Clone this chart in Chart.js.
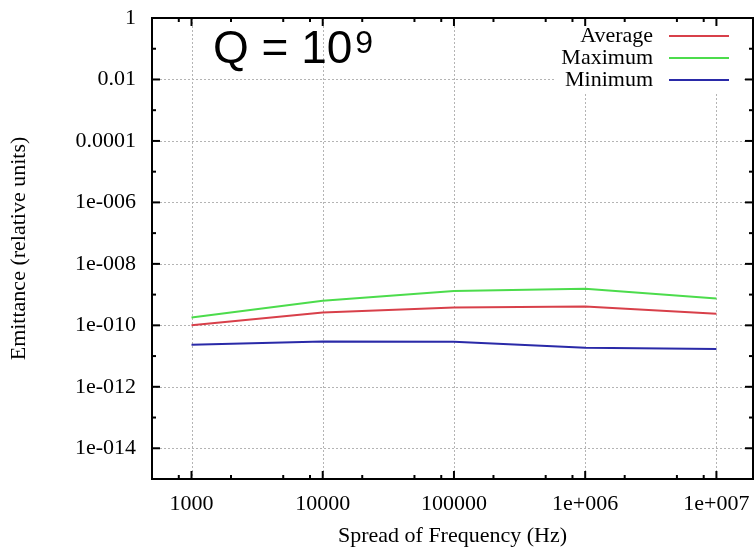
<!DOCTYPE html>
<html>
<head>
<meta charset="utf-8">
<script src="https://cdn.jsdelivr.net/npm/chart.js@4.4.1/dist/chart.umd.min.js"></script>
<style>
  html, body { margin: 0; padding: 0; background: #fff; }
</style>
</head>
<body>
<canvas id="chart" width="755" height="549"></canvas>
<script>
// Data
const frequencies = [1000, 10000, 100000, 1000000, 10000000];
const average = [1.0e-10, 2.6e-10, 3.8e-10, 4.1e-10, 2.4e-10];
const maximum = [1.8e-10, 6.3e-10, 1.3e-9, 1.55e-9, 7.5e-10];
const minimum = [2.35e-11, 3.0e-11, 2.9e-11, 1.85e-11, 1.7e-11];

const xTickValues = [1000, 10000, 100000, 1000000, 10000000];
const xTickLabels = ["1000", "10000", "100000", "1e+006", "1e+007"];
const xMinorTicks = [800, 2000, 5000, 8000, 20000, 50000, 80000, 200000, 500000, 800000, 2000000, 5000000, 8000000];
const yTickValues = [1, 0.01, 1e-4, 1e-6, 1e-8, 1e-10, 1e-12, 1e-14];
const yTickLabels = ["1", "0.01", "0.0001", "1e-006", "1e-008", "1e-010", "1e-012", "1e-014"];
const yMinorTicks = [0.1, 1e-3, 1e-5, 1e-7, 1e-9, 1e-11, 1e-13];

const serif = "'Liberation Serif', 'DejaVu Serif', serif";

const toPoints = (ys) => frequencies.map((x, i) => ({ x: x, y: ys[i] }));

// gnuplot-like frame: dotted grid, inward ticks, boxed legend, Q label
const gnuplotFrame = {
  id: "gnuplotFrame",
  beforeDatasetsDraw(chart) {
    const { ctx, chartArea: a, scales } = chart;
    ctx.save();
    ctx.strokeStyle = "#b4b4b4";
    ctx.lineWidth = 1;
    ctx.setLineDash([2, 2]);
    xTickValues.forEach((v) => {
      const px = Math.round(scales.x.getPixelForValue(v)) + 0.5;
      ctx.beginPath();
      ctx.moveTo(px, a.top);
      ctx.lineTo(px, a.bottom);
      ctx.stroke();
    });
    yTickValues.forEach((v) => {
      const py = Math.round(scales.y.getPixelForValue(v)) + 0.5;
      ctx.beginPath();
      ctx.moveTo(a.left, py);
      ctx.lineTo(a.right, py);
      ctx.stroke();
    });
    ctx.restore();
  },
  afterDatasetsDraw(chart) {
    const { ctx, chartArea: a, scales } = chart;
    ctx.save();

    // legend box hides the grid behind it
    ctx.fillStyle = "#fff";
    ctx.fillRect(556, a.top + 2, 188, 72);

    ctx.strokeStyle = "#000";
    ctx.lineWidth = 2;
    ctx.setLineDash([]);
    ctx.strokeRect(a.left, a.top, a.right - a.left, a.bottom - a.top);

    const tick = (x1, y1, x2, y2) => {
      ctx.beginPath();
      ctx.moveTo(x1, y1);
      ctx.lineTo(x2, y2);
      ctx.stroke();
    };
    xTickValues.forEach((v) => {
      const px = scales.x.getPixelForValue(v);
      tick(px, a.bottom, px, a.bottom - 8);
      tick(px, a.top, px, a.top + 8);
    });
    xMinorTicks.forEach((v) => {
      const px = scales.x.getPixelForValue(v);
      tick(px, a.bottom, px, a.bottom - 4);
      tick(px, a.top, px, a.top + 4);
    });
    yTickValues.forEach((v) => {
      const py = scales.y.getPixelForValue(v);
      tick(a.left, py, a.left + 8, py);
      tick(a.right, py, a.right - 8, py);
    });
    yMinorTicks.forEach((v) => {
      const py = scales.y.getPixelForValue(v);
      tick(a.left, py, a.left + 4, py);
      tick(a.right, py, a.right - 4, py);
    });
    ctx.restore();
  },
  afterDraw(chart) {
    const { ctx } = chart;
    ctx.save();

    // legend, right-aligned text with a line sample
    const textRight = 653;
    const lineX1 = 669, lineX2 = 729;
    ctx.font = "22px " + serif;
    ctx.textAlign = "right";
    ctx.textBaseline = "middle";
    chart.data.datasets.forEach((ds, i) => {
      const y = 36 + i * 22;
      ctx.fillStyle = "#000";
      ctx.fillText(ds.label, textRight, y);
      ctx.strokeStyle = ds.borderColor;
      ctx.lineWidth = 2;
      ctx.beginPath();
      ctx.moveTo(lineX1, y);
      ctx.lineTo(lineX2, y);
      ctx.stroke();
    });

    // Q = 10^9 annotation
    ctx.textAlign = "left";
    ctx.textBaseline = "alphabetic";
    ctx.fillStyle = "#000";
    ctx.font = "46px 'Liberation Sans', Arial, sans-serif";
    const base = "Q = 10";
    ctx.fillText(base, 213, 63);
    const w = ctx.measureText(base).width;
    ctx.font = "32px 'Liberation Sans', Arial, sans-serif";
    ctx.fillText("9", 213 + w + 3, 53);
    ctx.restore();
  }
};

new Chart(document.getElementById("chart"), {
  type: "line",
  data: {
    datasets: [
      { label: "Average", data: toPoints(average), borderColor: "#d8404a", borderWidth: 2 },
      { label: "Maximum", data: toPoints(maximum), borderColor: "#4cdc4c", borderWidth: 2 },
      { label: "Minimum", data: toPoints(minimum), borderColor: "#2a2aa8", borderWidth: 2 },
    ],
  },
  options: {
    responsive: false,
    animation: false,
    elements: { point: { radius: 0 }, line: { tension: 0 } },
    layout: { padding: { top: 18, right: 2, left: 0, bottom: 0 } },
    plugins: {
      legend: { display: false },
      tooltip: { enabled: false },
    },
    scales: {
      x: {
        type: "logarithmic",
        min: 500,
        max: 1.9e7,
        afterBuildTicks: (s) => { s.ticks = xTickValues.map((v) => ({ value: v })); },
        afterFit: (s) => {
          s.height = 70;
          s.paddingLeft = 0;
          s.paddingRight = 0;
        },
        grid: { display: false, drawTicks: false },
        border: { display: false },
        ticks: {
          autoSkip: false,
          maxRotation: 0,
          padding: 12,
          color: "#000",
          font: { family: serif, size: 22 },
          callback: (v, i) => xTickLabels[i],
        },
        title: {
          display: true,
          text: "Spread of Frequency (Hz)",
          color: "#000",
          font: { family: serif, size: 22 },
          padding: { top: 0, bottom: 0 },
        },
      },
      y: {
        type: "logarithmic",
        min: 1e-15,
        max: 1,
        afterBuildTicks: (s) => { s.ticks = yTickValues.map((v) => ({ value: v })); },
        afterFit: (s) => {
          s.width = 152;
          s.paddingTop = 0;
          s.paddingBottom = 0;
        },
        grid: { display: false, drawTicks: false },
        border: { display: false },
        ticks: {
          autoSkip: false,
          padding: 16,
          color: "#000",
          font: { family: serif, size: 22 },
          callback: (v, i) => yTickLabels[i],
        },
        title: {
          display: true,
          text: "Emittance (relative units)",
          color: "#000",
          font: { family: serif, size: 22 },
          padding: { top: 6, bottom: 0 },
        },
      },
    },
  },
  plugins: [gnuplotFrame],
});
</script>
</body>
</html>
